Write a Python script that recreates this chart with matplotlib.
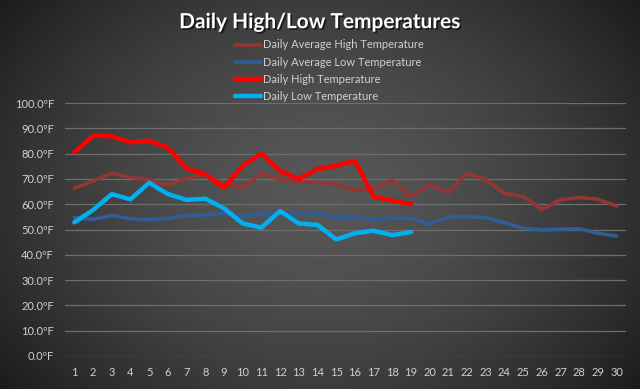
import numpy as np
import matplotlib
matplotlib.use("Agg")
import matplotlib.pyplot as plt
import matplotlib.patheffects as pe

# ---- data ----
days = list(range(1, 31))
avg_high = [66.3, 69.2, 72.2, 70.6, 69.6, 67.6, 70.2, 71.8, 67.9, 66.3,
            72.2, 69.8, 68.9, 68.6, 67.6, 65.6, 66.0, 69.6, 63.0, 67.6,
            64.7, 72.2, 69.6, 64.3, 63.0, 58.0, 61.7, 62.7, 61.9, 59.3]
avg_low = [54.7, 54.0, 55.5, 54.3, 53.8, 54.4, 55.6, 55.7, 56.4, 55.1,
           56.4, 56.0, 56.1, 56.6, 54.7, 54.7, 54.0, 54.4, 54.4, 52.2,
           54.9, 55.1, 54.7, 52.7, 50.5, 49.8, 50.1, 50.3, 48.5, 47.4]
daily_high = [80.5, 87.1, 86.8, 84.5, 85.1, 82.3, 74.2, 71.8, 66.5, 75.2,
              80.1, 73.1, 70.0, 73.9, 75.2, 77.2, 63.0, 61.4, 60.0]
daily_low = [52.8, 57.7, 64.0, 61.9, 68.5, 64.0, 61.7, 62.2, 58.4, 52.4,
             50.7, 57.3, 52.4, 51.8, 46.1, 48.5, 49.5, 47.8, 49.0]
yticks = list(range(0, 101, 10))

TXT = "#d0d0d0"
plt.rcParams['font.family'] = ['Lato', 'DejaVu Sans']

fig = plt.figure(figsize=(6.4, 3.89), dpi=100)

# radial dark gradient background
bg = fig.add_axes([0, 0, 1, 1], zorder=-10)
gx, gy = np.meshgrid(np.linspace(-1, 1, 320), np.linspace(-1, 1, 200))
r = np.sqrt((gx * 0.95) ** 2 + (gy * 0.75) ** 2)
shade = 0.34 - 0.17 * np.clip(r, 0, 1.3) ** 1.6
bg.imshow(np.dstack([shade] * 3), aspect="auto", extent=[0, 1, 0, 1])
bg.axis("off")

ax = fig.add_axes([65 / 640, 1 - 356 / 389, (626 - 65) / 640, (356 - 103) / 389])
ax.set_facecolor("none")

ax.plot(days, avg_high, color="#943634", lw=2.6, label="Daily Average High Temperature",
        solid_capstyle="round", solid_joinstyle="round")
ax.plot(days, avg_low, color="#2f5d97", lw=2.6, label="Daily Average Low Temperature",
        solid_capstyle="round", solid_joinstyle="round")
ax.plot(days[:len(daily_high)], daily_high, color="#ff0000", lw=3.2, label="Daily High Temperature",
        solid_capstyle="round", solid_joinstyle="round")
ax.plot(days[:len(daily_low)], daily_low, color="#00b0f0", lw=3.2, label="Daily Low Temperature",
        solid_capstyle="round", solid_joinstyle="round")

ax.set_xlim(0.5, 30.5)
ax.set_ylim(0, 100)
ax.set_yticks(yticks)
ax.set_yticklabels([f"{v:.1f}ºF" for v in yticks])
ax.set_xticks(days)
ax.set_xticklabels([str(d) for d in days])
ax.grid(True, axis="y", color="#6e6e6e", lw=0.9)
ax.set_axisbelow(True)
for s in ax.spines.values():
    s.set_visible(False)
ax.tick_params(length=0, colors=TXT, labelsize=8)
ax.tick_params(axis="y", pad=8)
ax.tick_params(axis="x", pad=8)

fig.text(0.5, 0.943, "Daily High/Low Temperatures", ha="center", va="center",
         color="white", fontsize=15, fontweight="bold",
         path_effects=[pe.withSimplePatchShadow(offset=(1.2, -1.2), shadow_rgbFace="black", alpha=0.6)])

leg = fig.legend(loc="upper left", bbox_to_anchor=(231 / 640, 1 - 35 / 389), frameon=False,
                 fontsize=8, labelcolor=TXT, handlelength=2.3, handletextpad=0.2,
                 labelspacing=0.55, borderaxespad=0)

fig.savefig("out.png", dpi=100)
